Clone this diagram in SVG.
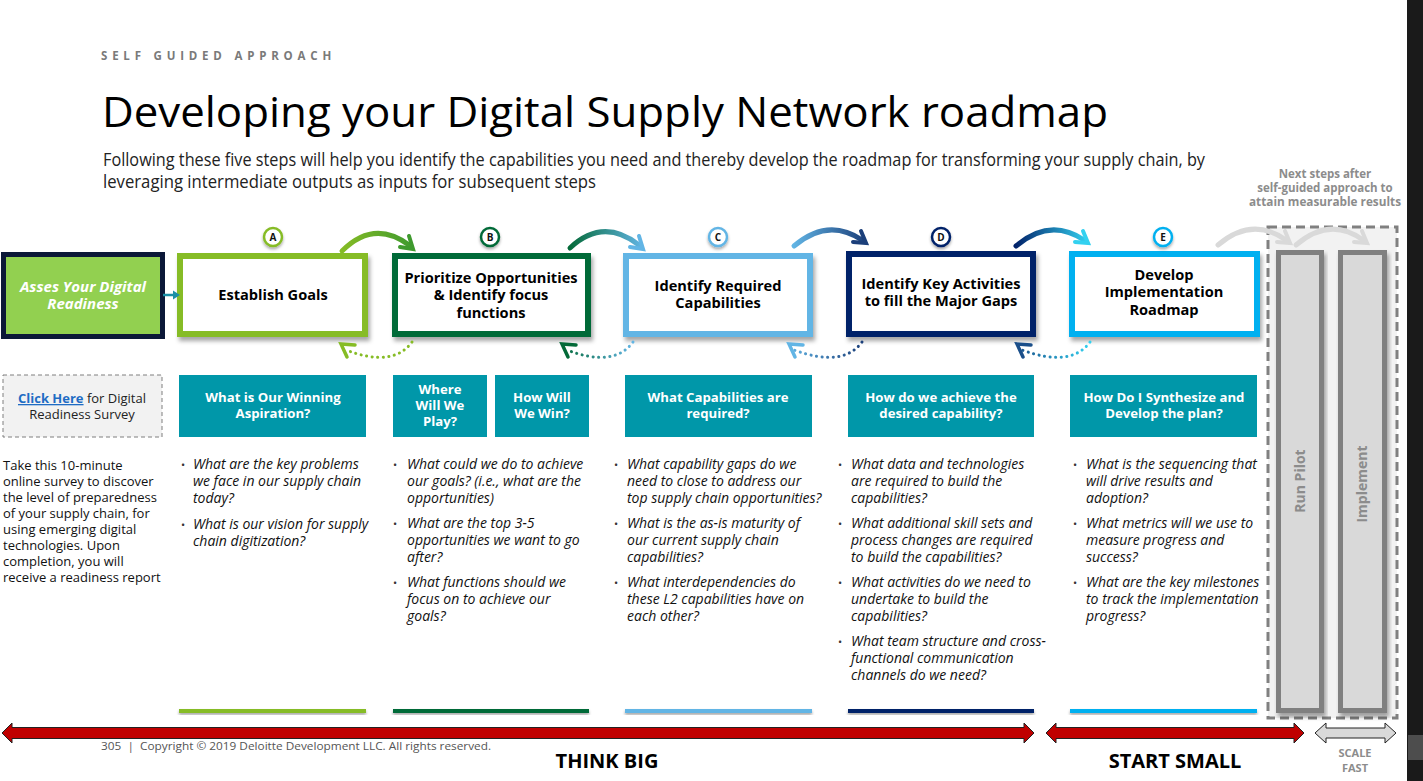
<svg xmlns="http://www.w3.org/2000/svg" width="1423" height="781" viewBox="0 0 1423 781">
  <defs>
    <style>
      .sans{font-family:"Open Sans","Liberation Sans",sans-serif}
      .step{font-family:"Open Sans","Liberation Sans",sans-serif;font-weight:700;font-size:14.6px;fill:#000;text-anchor:middle}
      .hdr{font-family:"Open Sans","Liberation Sans",sans-serif;font-weight:700;font-size:13.2px;fill:#fff;text-anchor:middle}
      .q{font-family:"Open Sans","Liberation Sans",sans-serif;font-style:italic;font-size:14px;fill:#111}
      .dot{font-family:"Open Sans","Liberation Sans",sans-serif;font-size:11px;fill:#333}
      .lbl{font-family:"Open Sans","Liberation Sans",sans-serif;font-weight:700;font-size:10px;fill:#111;text-anchor:middle}
      .teal{fill:#0097a9}
      .box{fill:#fff;stroke-width:6}
      .arc{fill:none;stroke-width:5;stroke-linecap:round}
      .head{fill:none;stroke-width:4;stroke-linecap:round;stroke-linejoin:miter}
      .back{fill:none;stroke-width:3;stroke-linecap:round;stroke-dasharray:0.1 5.5}
      .backhead{fill:none;stroke-width:3.5;stroke-linejoin:miter;stroke-linecap:round}
      .pillar{fill:#d9d9d9;stroke:#808080;stroke-width:5}
      .pl{font-family:"Open Sans","Liberation Sans",sans-serif;font-weight:700;font-size:14px;fill:#8c8c8c;text-anchor:middle}
    </style>
    <filter id="sh" x="-10%" y="-10%" width="125%" height="135%">
      <feDropShadow dx="2" dy="4" stdDeviation="2" flood-color="#000" flood-opacity="0.35"/>
    </filter>
    <filter id="shs" x="-20%" y="-20%" width="140%" height="160%">
      <feDropShadow dx="0" dy="2" stdDeviation="1.5" flood-color="#000" flood-opacity="0.35"/>
    </filter>
    <linearGradient id="gAB" gradientUnits="userSpaceOnUse" x1="341" y1="0" x2="413" y2="0"><stop offset="0" stop-color="#86bc25"/><stop offset="1" stop-color="#3f9a2e"/></linearGradient>
    <linearGradient id="gBC" gradientUnits="userSpaceOnUse" x1="569" y1="0" x2="643" y2="0"><stop offset="0" stop-color="#046a38"/><stop offset="1" stop-color="#62b5e5"/></linearGradient>
    <linearGradient id="gCD" gradientUnits="userSpaceOnUse" x1="793" y1="0" x2="866" y2="0"><stop offset="0" stop-color="#62b5e5"/><stop offset="1" stop-color="#1b3f7a"/></linearGradient>
    <linearGradient id="gDE" gradientUnits="userSpaceOnUse" x1="1015" y1="0" x2="1088" y2="0"><stop offset="0" stop-color="#012169"/><stop offset="1" stop-color="#33d1f0"/></linearGradient>
    <linearGradient id="bBC" gradientUnits="userSpaceOnUse" x1="633" y1="0" x2="561" y2="0"><stop offset="0" stop-color="#62b5e5"/><stop offset="1" stop-color="#046a38"/></linearGradient>
    <linearGradient id="bCD" gradientUnits="userSpaceOnUse" x1="862" y1="0" x2="788" y2="0"><stop offset="0" stop-color="#1b3f7a"/><stop offset="1" stop-color="#62b5e5"/></linearGradient>
    <linearGradient id="bDE" gradientUnits="userSpaceOnUse" x1="1090" y1="0" x2="1016" y2="0"><stop offset="0" stop-color="#33d1f0"/><stop offset="1" stop-color="#1b4f8a"/></linearGradient>
  </defs>

  <rect width="1423" height="781" fill="#fff"/>

  <!-- page header -->
  <g id="header">
    <text x="101" y="60" class="sans" font-size="11.5" font-weight="700" fill="#7a7a7a" letter-spacing="4.8">SELF GUIDED APPROACH</text>
    <text x="102" y="127" class="sans" font-size="42" fill="#000" textLength="1006" lengthAdjust="spacingAndGlyphs">Developing your Digital Supply Network roadmap</text>
    <text x="103" y="166" class="sans" font-size="17.5" fill="#222" textLength="1102" lengthAdjust="spacingAndGlyphs">Following these five steps will help you identify the capabilities you need and thereby develop the roadmap for transforming your supply chain, by</text>
    <text x="103" y="188" class="sans" font-size="17.5" fill="#222" textLength="493" lengthAdjust="spacingAndGlyphs">leveraging intermediate outputs as inputs for subsequent steps</text>
  </g>

  <!-- next-steps area -->
  <g id="next-steps">
    <rect x="1268" y="227" width="129" height="491" fill="#f2f2f2" stroke="#808080" stroke-width="3" stroke-dasharray="9 5"/>
    <g class="sans" font-size="11.5" font-weight="700" fill="#8c8c8c" text-anchor="middle">
      <text x="1325" y="178">Next steps after</text>
      <text x="1325" y="192">self-guided approach to</text>
      <text x="1325" y="206" textLength="152" lengthAdjust="spacingAndGlyphs">attain measurable results</text>
    </g>
  </g>
  <g id="run-pilot">
    <rect x="1278.5" y="252.5" width="43" height="458" class="pillar" filter="url(#sh)"/>
    <text class="pl" transform="translate(1305 481) rotate(-90)">Run Pilot</text>
  </g>
  <g id="implement">
    <rect x="1340.5" y="252.5" width="44" height="458" class="pillar" filter="url(#sh)"/>
    <text class="pl" transform="translate(1367 484) rotate(-90)">Implement</text>
  </g>

  <!-- step boxes -->
  <g id="assess">
    <rect x="3.5" y="254.5" width="159" height="82" fill="#92d050" stroke="#0b1838" stroke-width="5"/>
    <g class="sans" font-size="15" font-weight="700" font-style="italic" fill="#fff" text-anchor="middle">
      <text x="83" y="292">Asses Your Digital</text>
      <text x="83" y="309">Readiness</text>
    </g>
  </g>
  <g id="step-a">
    <rect x="180" y="256" width="185" height="78" class="box" stroke="#86bc25" filter="url(#sh)"/>
    <text class="step" x="273" y="300">Establish Goals</text>
    <circle cx="273" cy="237" r="9" fill="#fff" stroke="#86bc25" stroke-width="2.5" filter="url(#shs)"/>
    <text class="lbl" x="273" y="240.5">A</text>
  </g>
  <g id="step-b">
    <rect x="395" y="256" width="193" height="78" class="box" stroke="#046a38" filter="url(#sh)"/>
    <text class="step" x="491" y="283">Prioritize Opportunities</text>
    <text class="step" x="491" y="300">&amp; Identify focus</text>
    <text class="step" x="491" y="318">functions</text>
    <circle cx="490" cy="237" r="9" fill="#fff" stroke="#046a38" stroke-width="2.5" filter="url(#shs)"/>
    <text class="lbl" x="490" y="240.5">B</text>
  </g>
  <g id="step-c">
    <rect x="626" y="256" width="184" height="78" class="box" stroke="#62b5e5" filter="url(#sh)"/>
    <text class="step" x="718" y="291">Identify Required</text>
    <text class="step" x="718" y="308">Capabilities</text>
    <circle cx="718" cy="237" r="9" fill="#fff" stroke="#62b5e5" stroke-width="2.5" filter="url(#shs)"/>
    <text class="lbl" x="718" y="240.5">C</text>
  </g>
  <g id="step-d">
    <rect x="849" y="254" width="184" height="80" class="box" stroke="#012169" filter="url(#sh)"/>
    <text class="step" x="941" y="289">Identify Key Activities</text>
    <text class="step" x="941" y="306">to fill the Major Gaps</text>
    <circle cx="941" cy="237" r="9" fill="#fff" stroke="#012169" stroke-width="2.5" filter="url(#shs)"/>
    <text class="lbl" x="941" y="240.5">D</text>
  </g>
  <g id="step-e">
    <rect x="1072" y="254" width="185" height="80" class="box" stroke="#00b0f0" filter="url(#sh)"/>
    <text class="step" x="1164" y="280">Develop</text>
    <text class="step" x="1164" y="297">Implementation</text>
    <text class="step" x="1164" y="315">Roadmap</text>
    <circle cx="1163" cy="237" r="9" fill="#fff" stroke="#00b0f0" stroke-width="2.5" filter="url(#shs)"/>
    <text class="lbl" x="1163" y="240.5">E</text>
  </g>

  <!-- connectors -->
  <g id="connectors">
    <path d="M163 295 H174" stroke="#1a8fa6" stroke-width="2.5" fill="none"/>
    <path d="M173 290.5 L180 295 L173 299.5 Z" fill="#1a8fa6"/>

    <path class="arc" d="M342 251 Q374 219 409 245" stroke="url(#gAB)"/>
    <path class="head" d="M409 236 L413 249 L400 247" stroke="#3f9a2e"/>
    <path class="arc" d="M570 248 Q603 217 639 245" stroke="url(#gBC)"/>
    <path class="head" d="M639 236 L643 249 L630 247" stroke="#62b5e5"/>
    <path class="arc" d="M794 246 Q828 217 862 240" stroke="url(#gCD)"/>
    <path class="head" d="M861 231 L866 243 L853 242" stroke="#1b3f7a"/>
    <path class="arc" d="M1016 246 Q1050 217 1084 240" stroke="url(#gDE)"/>
    <path class="head" d="M1083 231 L1088 243 L1075 242" stroke="#33d1f0"/>
    <path class="arc" d="M1218 245 Q1252 216 1286 240" stroke="#d9d9d9"/>
    <path class="head" d="M1285 231 L1290 243 L1277 242" stroke="#d9d9d9"/>
    <path class="arc" d="M1296 245 Q1330 216 1363 240" stroke="#d9d9d9"/>
    <path class="head" d="M1362 231 L1367 243 L1354 242" stroke="#d9d9d9"/>

    <path class="back" d="M412 342 Q393 368 346 350" stroke="#86bc25"/>
    <path class="backhead" d="M355 345 L341 344 L347 357" stroke="#86bc25"/>
    <path class="back" d="M633 342 Q614 368 567 350" stroke="url(#bBC)"/>
    <path class="backhead" d="M576 345 L562 344 L568 357" stroke="#046a38"/>
    <path class="back" d="M862 342 Q843 368 794 350" stroke="url(#bCD)"/>
    <path class="backhead" d="M803 345 L789 344 L795 357" stroke="#62b5e5"/>
    <path class="back" d="M1090 342 Q1071 368 1022 350" stroke="url(#bDE)"/>
    <path class="backhead" d="M1031 345 L1017 344 L1023 357" stroke="#1b4f8a"/>
  </g>

  <!-- survey link and description -->
  <g id="survey">
    <rect x="3" y="375" width="159" height="62" fill="#f2f2f2" stroke="#7f7f7f" stroke-width="1" stroke-dasharray="4 3"/>
    <text x="82" y="403" class="sans" font-size="13" fill="#222" text-anchor="middle"><tspan font-weight="700" fill="#1f6cc4" text-decoration="underline">Click Here</tspan> for Digital</text>
    <text x="82" y="419" class="sans" font-size="13" fill="#222" text-anchor="middle">Readiness Survey</text>
    <g class="sans" font-size="13" fill="#111">
      <text x="3" y="470">Take this 10-minute</text>
      <text x="3" y="486">online survey to discover</text>
      <text x="3" y="502">the level of preparedness</text>
      <text x="3" y="518">of your supply chain, for</text>
      <text x="3" y="534">using emerging digital</text>
      <text x="3" y="550">technologies. Upon</text>
      <text x="3" y="566">completion, you will</text>
      <text x="3" y="582">receive a readiness report</text>
    </g>
  </g>

  <!-- question columns -->
  <g id="col-a">
    <rect x="179" y="375" width="187" height="62" class="teal"/>
    <text class="hdr" x="273" y="402">What is Our Winning</text>
    <text class="hdr" x="273" y="418">Aspiration?</text>
    <text class="dot" x="181" y="469">•</text>
    <text class="q" x="193" y="469">What are the key problems</text>
    <text class="q" x="193" y="486">we face in our supply chain</text>
    <text class="q" x="193" y="503">today?</text>
    <text class="dot" x="181" y="529">•</text>
    <text class="q" x="193" y="529">What is our vision for supply</text>
    <text class="q" x="193" y="546">chain digitization?</text>
    <rect x="179" y="709" width="187" height="4" fill="#86bc25" filter="url(#shs)"/>
  </g>
  <g id="col-b">
    <rect x="393" y="375" width="94" height="62" class="teal"/>
    <text class="hdr" x="440" y="394">Where</text>
    <text class="hdr" x="440" y="410">Will We</text>
    <text class="hdr" x="440" y="426">Play?</text>
    <rect x="495" y="375" width="94" height="62" class="teal"/>
    <text class="hdr" x="542" y="402">How Will</text>
    <text class="hdr" x="542" y="418">We Win?</text>
    <text class="dot" x="393" y="469">•</text>
    <text class="q" x="407" y="469">What could we do to achieve</text>
    <text class="q" x="407" y="486">our goals? (i.e., what are the</text>
    <text class="q" x="407" y="503">opportunities)</text>
    <text class="dot" x="393" y="528">•</text>
    <text class="q" x="407" y="528">What are the top 3-5</text>
    <text class="q" x="407" y="545">opportunities we want to go</text>
    <text class="q" x="407" y="562">after?</text>
    <text class="dot" x="393" y="587">•</text>
    <text class="q" x="407" y="587">What functions should we</text>
    <text class="q" x="407" y="604">focus on to achieve our</text>
    <text class="q" x="407" y="621">goals?</text>
    <rect x="393" y="709" width="196" height="4" fill="#046a38" filter="url(#shs)"/>
  </g>
  <g id="col-c">
    <rect x="625" y="375" width="187" height="62" class="teal"/>
    <text class="hdr" x="718" y="402">What Capabilities are</text>
    <text class="hdr" x="718" y="418">required?</text>
    <text class="dot" x="614" y="469">•</text>
    <text class="q" x="627" y="469">What capability gaps do we</text>
    <text class="q" x="627" y="486">need to close to address our</text>
    <text class="q" x="627" y="503">top supply chain opportunities?</text>
    <text class="dot" x="614" y="528">•</text>
    <text class="q" x="627" y="528">What is the as-is maturity of</text>
    <text class="q" x="627" y="545">our current supply chain</text>
    <text class="q" x="627" y="562">capabilities?</text>
    <text class="dot" x="614" y="587">•</text>
    <text class="q" x="627" y="587">What interdependencies do</text>
    <text class="q" x="627" y="604">these L2 capabilities have on</text>
    <text class="q" x="627" y="621">each other?</text>
    <rect x="625" y="709" width="187" height="4" fill="#62b5e5" filter="url(#shs)"/>
  </g>
  <g id="col-d">
    <rect x="848" y="375" width="186" height="62" class="teal"/>
    <text class="hdr" x="941" y="402">How do we achieve the</text>
    <text class="hdr" x="941" y="418">desired capability?</text>
    <text class="dot" x="838" y="469">•</text>
    <text class="q" x="851" y="469">What data and technologies</text>
    <text class="q" x="851" y="486">are required to build the</text>
    <text class="q" x="851" y="503">capabilities?</text>
    <text class="dot" x="838" y="528">•</text>
    <text class="q" x="851" y="528">What additional skill sets and</text>
    <text class="q" x="851" y="545">process changes are required</text>
    <text class="q" x="851" y="562">to build the capabilities?</text>
    <text class="dot" x="838" y="587">•</text>
    <text class="q" x="851" y="587">What activities do we need to</text>
    <text class="q" x="851" y="604">undertake to build the</text>
    <text class="q" x="851" y="621">capabilities?</text>
    <text class="dot" x="838" y="646">•</text>
    <text class="q" x="851" y="646">What team structure and cross-</text>
    <text class="q" x="851" y="663">functional communication</text>
    <text class="q" x="851" y="680">channels do we need?</text>
    <rect x="848" y="709" width="186" height="4" fill="#012169" filter="url(#shs)"/>
  </g>
  <g id="col-e">
    <rect x="1070" y="375" width="187" height="62" class="teal"/>
    <text class="hdr" x="1164" y="402">How Do I Synthesize and</text>
    <text class="hdr" x="1164" y="418">Develop the plan?</text>
    <text class="dot" x="1073" y="469">•</text>
    <text class="q" x="1086" y="469">What is the sequencing that</text>
    <text class="q" x="1086" y="486">will drive results and</text>
    <text class="q" x="1086" y="503">adoption?</text>
    <text class="dot" x="1073" y="528">•</text>
    <text class="q" x="1086" y="528">What metrics will we use to</text>
    <text class="q" x="1086" y="545">measure progress and</text>
    <text class="q" x="1086" y="562">success?</text>
    <text class="dot" x="1073" y="587">•</text>
    <text class="q" x="1086" y="587">What are the key milestones</text>
    <text class="q" x="1086" y="604">to track the implementation</text>
    <text class="q" x="1086" y="621">progress?</text>
    <rect x="1070" y="709" width="187" height="4" fill="#00b0f0" filter="url(#shs)"/>
  </g>

  <!-- phase arrows -->
  <g id="think-big">
    <polygon points="2,733 12,723 12,727.5 1024,727.5 1024,723 1034,733 1024,743 1024,738.5 12,738.5 12,743" fill="#c00000" stroke="#222" stroke-width="1"/>
    <text x="607" y="768" class="sans" font-size="20" font-weight="700" fill="#000" text-anchor="middle">THINK BIG</text>
  </g>
  <g id="start-small">
    <polygon points="1046,733 1056,723 1056,727.5 1294,727.5 1294,723 1304,733 1294,743 1294,738.5 1056,738.5 1056,743" fill="#c00000" stroke="#222" stroke-width="1"/>
    <text x="1175" y="768" class="sans" font-size="20" font-weight="700" fill="#000" text-anchor="middle">START SMALL</text>
  </g>
  <g id="scale-fast">
    <polygon points="1315,733 1326,723 1326,728 1385,728 1385,723 1396,733 1385,743 1385,738 1326,738 1326,743" fill="#d9d9d9" stroke="#222" stroke-width="1"/>
    <text x="1355" y="757" class="sans" font-size="11" font-weight="700" fill="#8c8c8c" text-anchor="middle">SCALE</text>
    <text x="1355" y="772" class="sans" font-size="11" font-weight="700" fill="#8c8c8c" text-anchor="middle">FAST</text>
  </g>

  <text x="101" y="750" class="sans" font-size="11.5" fill="#555" textLength="390" lengthAdjust="spacingAndGlyphs">305 &#160;| &#160;Copyright © 2019 Deloitte Development LLC. All rights reserved.</text>

  <!-- window edge -->
  <rect x="1407" y="0" width="16" height="781" fill="#1a1a1a"/>
  <rect x="1408" y="735" width="15" height="25" fill="#4d4d4d"/>
</svg>
